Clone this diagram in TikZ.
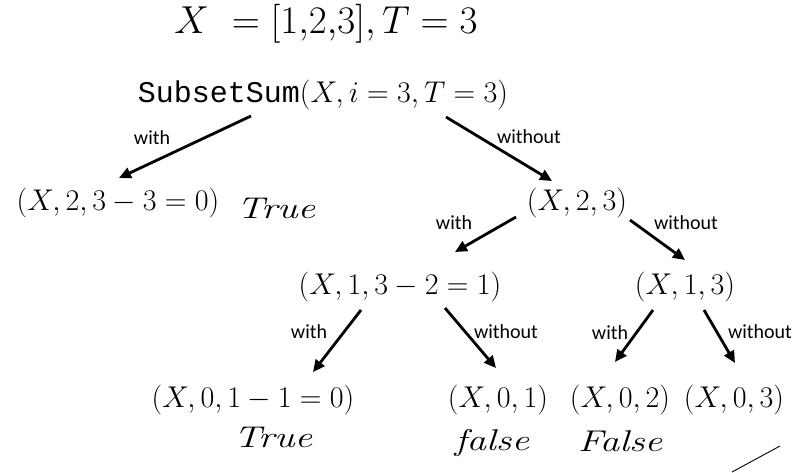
\RequirePackage{fix-cm}
\documentclass[tikz,border=0pt]{standalone}
\usepackage{fontspec}
\usepackage{graphicx}
\usetikzlibrary{arrows.meta,calc}
\newfontfamily\lblfont{Carlito}
\newfontfamily\codefont{Liberation Mono}
\tikzset{
  mnode/.style={inner sep=0pt, font=\fontsize{30}{34}\selectfont},
  titlenode/.style={inner sep=0pt, font=\fontsize{39}{44}\selectfont},
  elabel/.style={inner sep=0pt, font=\lblfont\fontsize{20}{22}\selectfont},
  hand/.style={inner sep=0pt, font=\itshape\fontsize{30}{34}\selectfont},
  arr/.style={line width=2.8pt, -{Triangle[length=12pt,width=11pt]}},
}
\begin{document}
\begin{tikzpicture}[x=1pt,y=-1pt]
\path[use as bounding box, fill=white] (0,0) rectangle (793,472);
% title
\node[titlenode] (title) at (326,24) {$X\ = [1{,}2{,}3], T = 3$};
% tree nodes
\node[mnode] (R) at (323,95) {{\codefont\fontsize{30}{34}\selectfont SubsetSum}$(X, i = 3, T = 3)$};
\node[mnode] (A) at (118,203) {$(X, 2, 3 - 3 = 0)$};
\node[mnode] (B) at (577,203) {$(X, 2, 3)$};
\node[mnode] (C) at (400,287) {$(X, 1, 3 - 2 = 1)$};
\node[mnode] (D) at (685,287) {$(X, 1, 3)$};
\node[mnode] (E) at (253,400) {$(X, 0, 1 - 1 = 0)$};
\node[mnode] (F) at (498,400) {$(X, 0, 1)$};
\node[mnode] (G) at (620,400) {$(X, 0, 2)$};
\node[mnode] (H) at (734,400) {$(X, 0, 3)$};
% arrows
\draw[arr] ($(R)+(-72,21)$) -- ($(A)+(1,-25)$);
\draw[arr] ($(R)+(123,22)$) -- ($(B)+(-25,-22)$);
\draw[arr] ($(B)+(-61,14)$) -- ($(C)+(55,-35)$);
\draw[arr] ($(B)+(53,17)$) -- ($(D)+(0,-27)$);
\draw[arr] ($(C)+(-39,23)$) -- ($(E)+(60,-28)$);
\draw[arr] ($(C)+(45,21)$) -- ($(F)+(-2,-32)$);
\draw[arr] ($(D)+(-32,23)$) -- ($(G)+(-5,-38)$);
\draw[arr] ($(D)+(19,23)$) -- ($(H)+(1,-37)$);
% edge labels
\node[elabel] (l1) at (152,138) {with};
\node[elabel] (l2) at (529,137) {without};
\node[elabel] (l3) at (454,223) {with};
\node[elabel] (l4) at (686,223) {without};
\node[elabel] (l5) at (309,332) {with};
\node[elabel] (l6) at (506,332) {without};
\node[elabel] (l7) at (610,333) {with};
\node[elabel] (l8) at (760,332) {without};
% handwritten notes
\node[hand] (h1) at (276,208) {\scalebox{1.3}[1]{True}};
\node[hand] (h2) at (273,437) {\scalebox{1.3}[1]{True}};
\node[hand] (h3) at (492,443) {\scalebox{1.3}[1]{false}};
\node[hand] (h4) at (620,441) {\scalebox{1.3}[1]{False}};
\coordinate (s1) at (732,472);
\coordinate (s2) at (780,446);
\draw[line width=0.9pt] (s1) -- (s2);
\end{tikzpicture}
\end{document}
